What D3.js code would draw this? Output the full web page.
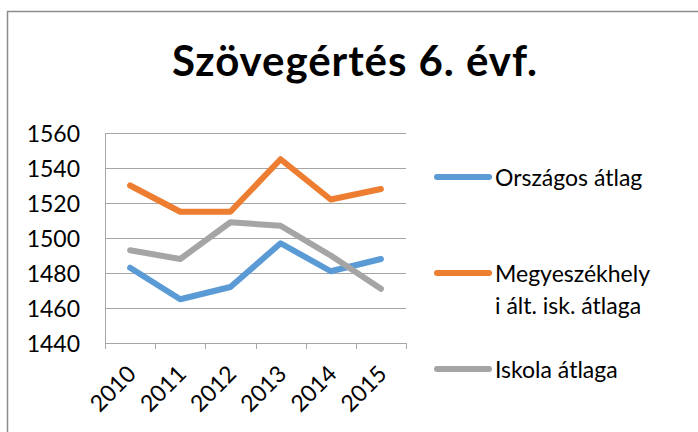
<!DOCTYPE html>
<html>
<head>
<meta charset="utf-8">
<script src="https://cdn.jsdelivr.net/npm/d3@7"></script>
<style>
  body { margin: 0; background: #fff; }
  text { font-family: Lato, "Open Sans", sans-serif; fill: #000; }
</style>
</head>
<body>
<div id="chart"></div>
<script>
// data
var years = ["2010", "2011", "2012", "2013", "2014", "2015"];
var orszagos = [1483, 1465, 1472, 1497, 1481, 1488];
var megyeszekhely = [1530, 1515, 1515, 1545, 1522, 1528];
var iskola = [1493, 1488, 1509, 1507, 1490, 1471];
var yTicks = [1440, 1460, 1480, 1500, 1520, 1540, 1560];

var series = [
  {name: ["Országos átlag"], values: orszagos, color: "#5B9BD5"},
  {name: ["Megyeszékhely", "i ált. isk. átlaga"], values: megyeszekhely, color: "#ED7D31"},
  {name: ["Iskola átlaga"], values: iskola, color: "#A5A5A5"}
];

var W = 698, H = 432;
var margin = {top: 133, left: 105, right: 292, bottom: 89};
var width = W - margin.left - margin.right,
    height = H - margin.top - margin.bottom;

var svg = d3.select("#chart").append("svg")
  .attr("width", W)
  .attr("height", H);

// chart border
svg.append("rect")
  .attr("x", 7.5).attr("y", 11.5)
  .attr("width", W).attr("height", H)
  .attr("fill", "none")
  .attr("stroke", "#8c8c8c")
  .attr("stroke-width", 1.5);

// title
svg.append("text")
  .attr("x", 172).attr("y", 76)
  .attr("textLength", 365)
  .attr("lengthAdjust", "spacing")
  .style("font-size", "42px")
  .style("font-weight", "bold")
  .text("Szövegértés 6. évf.");

var g = svg.append("g")
  .attr("transform", "translate(" + margin.left + "," + margin.top + ")");

var x = d3.scaleBand().domain(years).range([0, width]);
var y = d3.scaleLinear().domain([1440, 1560]).range([height, 0]);

// gridlines
g.selectAll(".grid")
  .data(yTicks)
  .enter().append("line")
    .attr("x1", 0).attr("x2", width)
    .attr("y1", function(d) { return Math.round(y(d)) + 0.5; })
    .attr("y2", function(d) { return Math.round(y(d)) + 0.5; })
    .attr("stroke", "#a6a6a6")
    .attr("stroke-width", 1);

// y axis
var yAxis = g.append("g")
  .call(d3.axisLeft(y).tickValues(yTicks).tickFormat(d3.format("d")).tickSize(0).tickPadding(25));
yAxis.select(".domain").attr("stroke", "#a6a6a6");
yAxis.selectAll("text")
  .style("font-size", "23px")
  .style("font-family", "Lato, sans-serif")
  .attr("dy", "0.36em");

// x axis
var xAxis = g.append("g")
  .attr("transform", "translate(0," + height + ")")
  .call(d3.axisBottom(x).tickSize(0).tickFormat(""));
xAxis.select(".domain").attr("stroke", "#a6a6a6");
// tick marks at band edges, like Excel
var edges = years.map(function(d) { return x(d); }).concat([width]);
xAxis.selectAll(".edge")
  .data(edges)
  .enter().append("line")
    .attr("x1", function(d) { return Math.round(d) + 0.5; })
    .attr("x2", function(d) { return Math.round(d) + 0.5; })
    .attr("y1", 0).attr("y2", 6)
    .attr("stroke", "#a6a6a6");

xAxis.selectAll(".xlabel")
  .data(years)
  .enter().append("text")
    .attr("transform", function(d) {
      return "translate(" + (x(d) + x.bandwidth() / 2 - 4) + "," + 21 + ") rotate(-45)";
    })
    .attr("text-anchor", "end")
    .attr("dy", "0.7em")
    .style("font-size", "23px")
    .text(function(d) { return d; });

// lines
var line = d3.line()
  .x(function(d, i) { return x(years[i]) + x.bandwidth() / 2; })
  .y(function(d) { return y(d); });

g.selectAll(".series")
  .data(series)
  .enter().append("path")
    .attr("d", function(s) { return line(s.values); })
    .attr("fill", "none")
    .attr("stroke", function(s) { return s.color; })
    .attr("stroke-width", 6)
    .attr("stroke-linejoin", "round")
    .attr("stroke-linecap", "round");

// legend
var legendY = [177, 273, 369];
var legend = svg.selectAll(".legend")
  .data(series)
  .enter().append("g")
    .attr("transform", function(s, i) { return "translate(437," + legendY[i] + ")"; });

legend.append("line")
  .attr("x1", 0).attr("x2", 52)
  .attr("stroke", function(s) { return s.color; })
  .attr("stroke-width", 6)
  .attr("stroke-linecap", "round");

legend.each(function(s) {
  var t = d3.select(this).append("text")
    .attr("x", 58).attr("y", 9)
    .style("font-size", "23px");
  s.name.forEach(function(part, k) {
    t.append("tspan")
      .attr("x", 58)
      .attr("dy", k === 0 ? 0 : 32)
      .text(part);
  });
});
</script>
</body>
</html>
